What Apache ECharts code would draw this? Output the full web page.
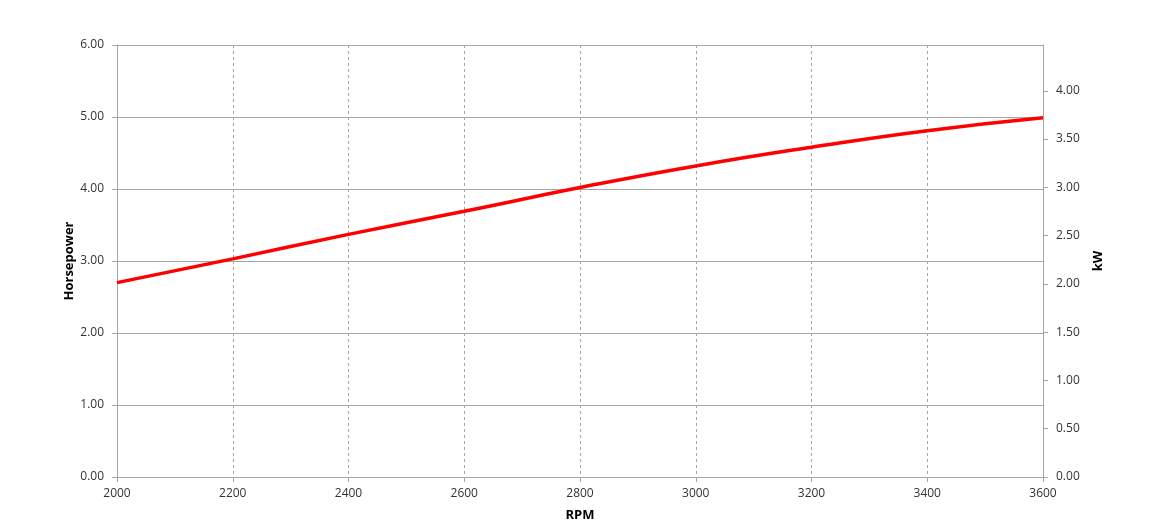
<!DOCTYPE html>
<html>
<head>
<meta charset="utf-8">
<script src="https://cdn.jsdelivr.net/npm/echarts@6/dist/echarts.min.js"></script>
<style>html,body{margin:0;padding:0;background:#fff}#c{width:1170px;height:524px}</style>
</head>
<body>
<div id="c"></div>
<script>
const rpm = [2000, 2200, 2400, 2600, 2800, 3000, 3200, 3400, 3600];
const horsepower = [2.70, 3.03, 3.37, 3.69, 4.02, 4.32, 4.58, 4.81, 4.99];
const hpTicks = [0, 1, 2, 3, 4, 5, 6];
const kwTicks = [0, 0.5, 1, 1.5, 2, 2.5, 3, 3.5, 4];
const HP_TO_KW = 0.7457;

const font = 'Open Sans';
const labelColor = '#333333';
const gridColor = '#a6a6a6';

const chart = echarts.init(document.getElementById('c'), null, {renderer: 'canvas'});
chart.setOption({
  animation: false,
  backgroundColor: '#fff',
  grid: {left: 117, right: 127, top: 45, bottom: 47, containLabel: false, outerBoundsMode: 'none'},
  xAxis: {
    type: 'value', min: 2000, max: 3600, interval: 200,
    name: 'RPM', nameLocation: 'middle', nameGap: 32, nameMoveOverlap: false,
    nameTextStyle: {fontFamily: font, fontWeight: 'bold', fontSize: 13, color: '#000'},
    axisLine: {show: true, lineStyle: {color: gridColor, width: 1}},
    axisTick: {show: true, length: 5, lineStyle: {color: gridColor}},
    axisLabel: {fontFamily: font, fontSize: 12, color: labelColor, margin: 11,
      formatter: v => String(v)},
    splitLine: {show: true, lineStyle: {color: gridColor, type: [3, 3], width: 1}}
  },
  yAxis: [{
    type: 'value', min: 0, max: 6, interval: 1, position: 'left',
    name: 'Horsepower', nameLocation: 'middle', nameGap: 41, nameRotate: 90, nameMoveOverlap: false,
    nameTextStyle: {fontFamily: font, fontWeight: 'bold', fontSize: 13, color: '#000'},
    axisLine: {show: true, lineStyle: {color: gridColor, width: 1}},
    axisTick: {show: true, length: 5, lineStyle: {color: gridColor}},
    axisLabel: {fontFamily: font, fontSize: 12, color: labelColor, margin: 13,
      customValues: hpTicks, formatter: v => v.toFixed(2)},
    splitLine: {show: true, lineStyle: {color: gridColor, width: 1}}
  }, {
    type: 'value', min: 0, max: 6 * HP_TO_KW, interval: 0.5, position: 'right',
    name: 'kW', nameLocation: 'middle', nameGap: 49, nameRotate: 90, nameMoveOverlap: false,
    nameTextStyle: {fontFamily: font, fontWeight: 'bold', fontSize: 13, color: '#000'},
    axisLine: {show: true, lineStyle: {color: gridColor, width: 1}},
    axisTick: {show: true, length: 5, lineStyle: {color: gridColor}, customValues: kwTicks},
    axisLabel: {fontFamily: font, fontSize: 12, color: labelColor, margin: 13,
      customValues: kwTicks, formatter: v => v.toFixed(2)},
    splitLine: {show: false}
  }],
  series: [{
    type: 'line', yAxisIndex: 0, smooth: true, showSymbol: false,
    data: rpm.map((r, i) => [r, horsepower[i]]),
    lineStyle: {color: '#ff0000', width: 3.5}
  }]
});
</script>
</body>
</html>
